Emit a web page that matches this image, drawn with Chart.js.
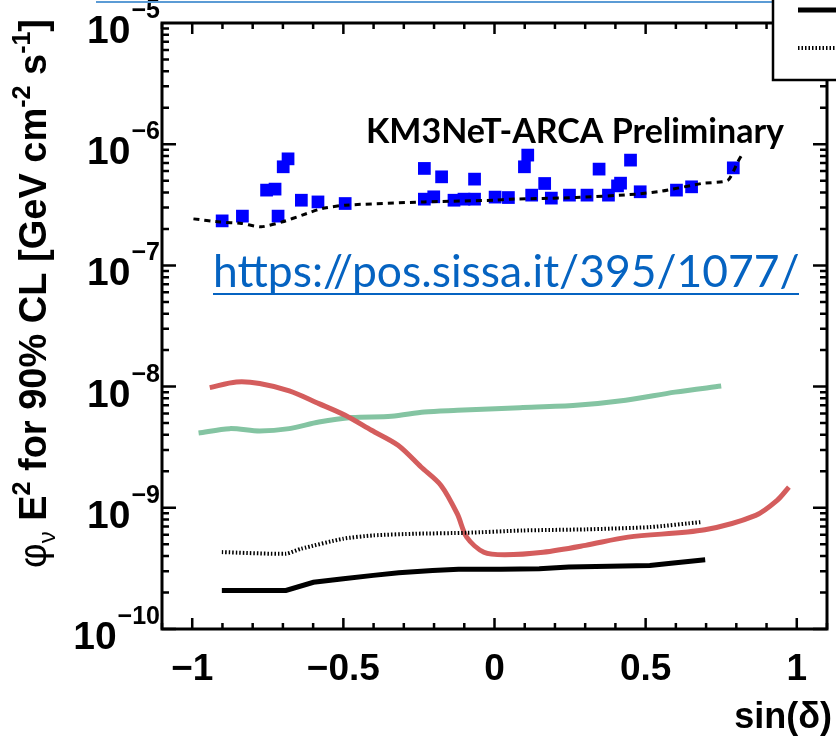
<!DOCTYPE html>
<html lang="en">
<head>
<meta charset="UTF-8">
<title>KM3NeT-ARCA sensitivity</title>
<script src="https://cdn.jsdelivr.net/npm/chart.js"></script>
<style>
  html, body { margin: 0; padding: 0; background: #fff; }
  #wrap { width: 836px; height: 737px; }
</style>
</head>
<body>
<div id="wrap"><canvas id="grafica" width="836" height="737"></canvas></div>
<script>
// ---- data ----
const solidX = [-0.902, -0.690, -0.599, -0.500, -0.401, -0.317, -0.205, -0.119, 0.021, 0.148, 0.246, 0.514, 0.584, 0.697];
const solidY = [2.08e-10, 2.08e-10, 2.43e-10, 2.60e-10, 2.77e-10, 2.91e-10, 3.04e-10, 3.11e-10, 3.11e-10, 3.14e-10, 3.24e-10, 3.34e-10, 3.49e-10, 3.72e-10];

const dottedX = [-0.902, -0.690, -0.640, -0.500, -0.401, -0.261, -0.092, 0.092, 0.303, 0.514, 0.682];
const dottedY = [4.31e-10, 4.18e-10, 4.59e-10, 5.56e-10, 5.92e-10, 6.11e-10, 6.22e-10, 6.50e-10, 6.64e-10, 6.93e-10, 7.62e-10];

const redX = [-0.942, -0.854, -0.777, -0.679, -0.581, -0.494, -0.407, -0.319, -0.243, -0.177, -0.123, -0.092, -0.035, 0.034, 0.161, 0.301, 0.442, 0.696, 0.864, 0.935, 0.974];
const redY = [9.8e-9, 1.09e-8, 1.06e-8, 9.2e-9, 7.24e-9, 5.8e-9, 4.36e-9, 3.28e-9, 2.17e-9, 1.53e-9, 8.9e-10, 5.73e-10, 4.3e-10, 4.1e-10, 4.3e-10, 4.9e-10, 5.73e-10, 6.59e-10, 8.65e-10, 1.15e-9, 1.48e-9];

const greenX = [-0.979, -0.876, -0.777, -0.679, -0.581, -0.472, -0.341, -0.232, -0.123, 0.003, 0.084, 0.270, 0.434, 0.597, 0.750];
const greenY = [4.14e-9, 4.5e-9, 4.3e-9, 4.5e-9, 5.1e-9, 5.55e-9, 5.69e-9, 6.17e-9, 6.37e-9, 6.58e-9, 6.7e-9, 7.01e-9, 7.71e-9, 9.0e-9, 1.01e-8];

const sensX = [-0.996, -0.908, -0.837, -0.772, -0.701, -0.636, -0.570, -0.494, -0.232, 0.0, 0.05, 0.27, 0.466, 0.554, 0.685, 0.772, 0.805, 0.821];
const sensY = [2.42e-7, 2.28e-7, 2.22e-7, 2.08e-7, 2.29e-7, 2.6e-7, 2.95e-7, 3.14e-7, 3.34e-7, 3.45e-7, 3.52e-7, 3.63e-7, 3.87e-7, 4.1e-7, 4.74e-7, 5.04e-7, 7.16e-7, 8.4e-7];

const srcX = [-0.901, -0.834, -0.754, -0.726, -0.716, -0.699, -0.683, -0.639, -0.584, -0.494, -0.232, -0.232, -0.201, -0.175, -0.134, -0.101, -0.066, -0.066, 0.002, 0.046, 0.099, 0.110, 0.123, 0.166, 0.188, 0.248, 0.306, 0.346, 0.377, 0.407, 0.417, 0.450, 0.482, 0.602, 0.652, 0.790];
const srcY = [2.33e-7, 2.55e-7, 4.18e-7, 4.26e-7, 2.55e-7, 6.51e-7, 7.57e-7, 3.45e-7, 3.34e-7, 3.24e-7, 6.31e-7, 3.52e-7, 3.68e-7, 5.38e-7, 3.45e-7, 3.52e-7, 5.15e-7, 3.52e-7, 3.66e-7, 3.63e-7, 6.51e-7, 8.13e-7, 3.80e-7, 4.74e-7, 3.59e-7, 3.80e-7, 3.80e-7, 6.23e-7, 3.80e-7, 4.53e-7, 4.77e-7, 7.39e-7, 4.05e-7, 4.18e-7, 4.45e-7, 6.38e-7];

const xTickVals = [-1, -0.5, 0, 0.5, 1];
const xTickText = ["\u22121", "\u22120.5", "0", "0.5", "1"];
const yDecades = [-10, -9, -8, -7, -6, -5];

function pts(xs, ys) { return xs.map((x, i) => ({ x: x, y: ys[i] })); }

// shrink/grow a font so the text spans a given width
function fitFont(ctx, text, weight, family, width) {
    ctx.font = weight + ' 40px ' + family;
    const s = 40 * width / ctx.measureText(text).width;
    ctx.font = weight + ' ' + s.toFixed(1) + 'px ' + family;
}

// ---- frame, ticks, labels and texts ----
const framePlugin = {
    id: 'frame',
    afterDraw(chart) {
        const ctx = chart.ctx;
        const a = chart.chartArea;
        const sx = chart.scales.x, sy = chart.scales.y;
        ctx.save();
        ctx.strokeStyle = '#000';
        ctx.lineWidth = 3;
        ctx.strokeRect(a.left, a.top, a.right - a.left, a.bottom - a.top);

        // x ticks (inside, top and bottom)
        ctx.lineWidth = 2.5;
        for (let k = -11; k <= 11; k++) {
            const v = k / 10;
            const px = sx.getPixelForValue(v);
            const len = (k % 5 === 0) ? 11 : 6;
            ctx.beginPath();
            ctx.moveTo(px, a.bottom); ctx.lineTo(px, a.bottom - len);
            ctx.moveTo(px, a.top); ctx.lineTo(px, a.top + len);
            ctx.stroke();
        }
        // y ticks (log, inside, left and right)
        for (let d = -10; d <= -6; d++) {
            for (let m = 1; m <= 9; m++) {
                const py = sy.getPixelForValue(m * Math.pow(10, d));
                const len = m === 1 ? 14 : 7;
                ctx.beginPath();
                ctx.moveTo(a.left, py); ctx.lineTo(a.left + len, py);
                ctx.moveTo(a.right, py); ctx.lineTo(a.right - len, py);
                ctx.stroke();
            }
        }

        ctx.fillStyle = '#000';
        // x tick labels
        ctx.font = 'bold 37px "Liberation Sans", Arial, sans-serif';
        ctx.textAlign = 'center';
        ctx.textBaseline = 'alphabetic';
        xTickVals.forEach((v, i) => {
            ctx.fillText(xTickText[i], sx.getPixelForValue(v), 680);
        });
        // y tick labels 10^k
        yDecades.forEach(d => {
            const py = sy.getPixelForValue(Math.pow(10, d));
            const sup = '\u2212' + (-d);
            ctx.font = 'bold 25px "Liberation Sans", Arial, sans-serif';
            const wSup = ctx.measureText(sup).width;
            ctx.textAlign = 'left';
            const right = 160;
            ctx.fillText(sup, right - wSup, py - 5);
            ctx.font = 'bold 39px "Liberation Sans", Arial, sans-serif';
            ctx.textAlign = 'right';
            ctx.fillText('10', right - wSup - 1, py + 20);
        });

        // x axis title
        ctx.font = 'bold 36px "Liberation Sans", Arial, sans-serif';
        ctx.textAlign = 'right';
        ctx.fillText('sin(\u03b4)', 832, 728);

        // y axis title, rotated, built from runs
        ctx.save();
        ctx.translate(46, 568);
        ctx.rotate(-Math.PI / 2);
        ctx.textAlign = 'left';
        const runs = [
            ['\u03c6', '38px "Liberation Sans", Arial, sans-serif', 0],
            ['\u03bd', '24px "Liberation Sans", Arial, sans-serif', 9],
            [' E', 'bold 38px "Liberation Sans", Arial, sans-serif', 0],
            ['2', 'bold 25px "Liberation Sans", Arial, sans-serif', -16],
            [' for 90% CL [GeV cm', 'bold 38px "Liberation Sans", Arial, sans-serif', 0],
            ['-2', 'bold 25px "Liberation Sans", Arial, sans-serif', -16],
            [' s', 'bold 38px "Liberation Sans", Arial, sans-serif', 0],
            ['-1', 'bold 25px "Liberation Sans", Arial, sans-serif', -16],
            [']', 'bold 38px "Liberation Sans", Arial, sans-serif', 0]
        ];
        let cx = 0;
        runs.forEach(r => {
            ctx.font = r[1];
            ctx.fillText(r[0], cx, r[2]);
            cx += ctx.measureText(r[0]).width;
        });
        ctx.restore();

        // preliminary label
        ctx.textAlign = 'left';
        fitFont(ctx, 'KM3NeT-ARCA Preliminary', 'bold', 'Lato, "Open Sans", sans-serif', 418);
        ctx.fillText('KM3NeT-ARCA Preliminary', 366, 143);

        // link text
        ctx.fillStyle = '#0563c1';
        const url = 'https://pos.sissa.it/395/1077/';
        fitFont(ctx, url, 'normal', 'Lato, "Open Sans", sans-serif', 586);
        ctx.fillText(url, 213, 287);
        ctx.fillRect(213, 293, 586, 2);

        // slide line at top
        ctx.strokeStyle = '#5b9bd5';
        ctx.lineWidth = 2;
        ctx.beginPath(); ctx.moveTo(96, 2); ctx.lineTo(772, 2); ctx.stroke();

        // legend box (cut by the picture edge)
        ctx.fillStyle = '#fff';
        ctx.fillRect(773, -5, 70, 85);
        ctx.strokeStyle = '#000';
        ctx.lineWidth = 2.5;
        ctx.strokeRect(773, -5, 70, 85);
        ctx.lineWidth = 5;
        ctx.beginPath(); ctx.moveTo(798, 10); ctx.lineTo(840, 10); ctx.stroke();
        ctx.lineWidth = 4;
        ctx.setLineDash([1.5, 2]);
        ctx.beginPath(); ctx.moveTo(798, 48); ctx.lineTo(840, 48); ctx.stroke();
        ctx.setLineDash([]);
        ctx.restore();
    }
};

const $grafica = document.querySelector('#grafica');
new Chart($grafica, {
    type: 'scatter',
    data: {
        datasets: [
            { label: 'solid', data: pts(solidX, solidY), showLine: true, borderColor: '#000', borderWidth: 5, pointRadius: 0, tension: 0 },
            { label: 'dotted', data: pts(dottedX, dottedY), showLine: true, borderColor: '#000', borderWidth: 4, borderDash: [1.5, 2], pointRadius: 0, tension: 0.2 },
            { label: 'red', data: pts(redX, redY), showLine: true, borderColor: '#d45d5d', borderWidth: 5, pointRadius: 0, tension: 0.3 },
            { label: 'green', data: pts(greenX, greenY), showLine: true, borderColor: '#84c4a2', borderWidth: 5, pointRadius: 0, tension: 0.3 },
            { label: 'sens', data: pts(sensX, sensY), showLine: true, borderColor: '#000', borderWidth: 3, borderDash: [6, 5], pointRadius: 0, tension: 0.2 },
            { label: 'sources', data: pts(srcX, srcY), showLine: false, pointStyle: 'rect', pointRadius: 9, backgroundColor: '#0000ff', borderColor: '#0000ff', borderWidth: 0 }
        ]
    },
    options: {
        responsive: false,
        animation: false,
        layout: { padding: { left: 162, right: 3, top: 23, bottom: 108 } },
        plugins: { legend: { display: false }, tooltip: { enabled: false } },
        scales: {
            x: { type: 'linear', min: -1.1, max: 1.1, display: false },
            y: { type: 'logarithmic', min: 1e-10, max: 1e-5, display: false }
        }
    },
    plugins: [framePlugin]
});
</script>
</body>
</html>
